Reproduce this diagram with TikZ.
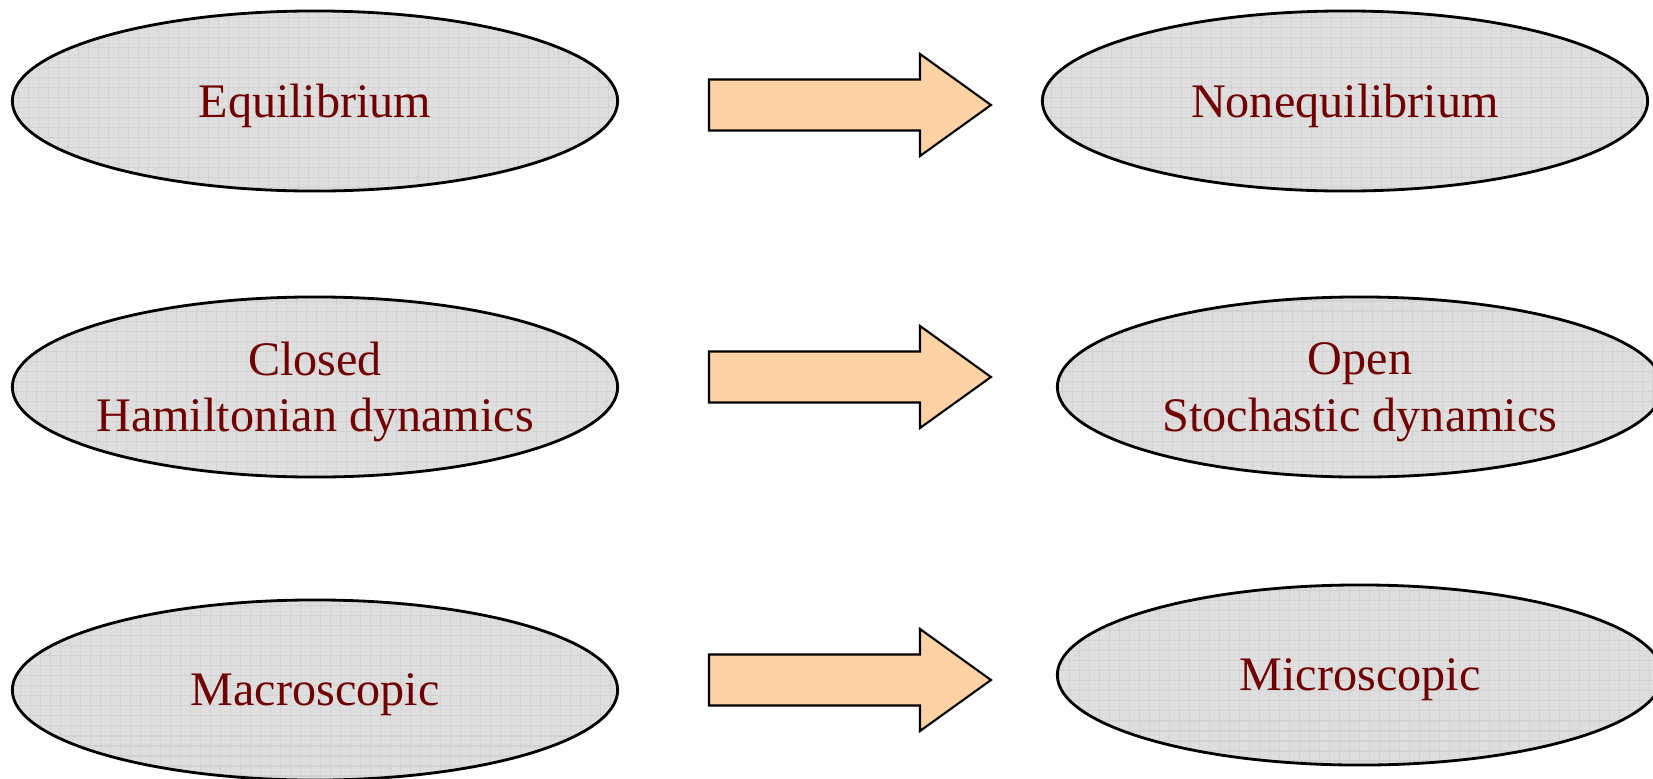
\documentclass[tikz,border=0pt]{standalone}
\usepackage{fontspec}
\setmainfont{Liberation Serif}
\usetikzlibrary{shapes.geometric}
\definecolor{labelred}{RGB}{112,0,0}
\definecolor{ovalgray}{RGB}{222,222,222}
\definecolor{arrowpeach}{RGB}{255,210,165}

\tikzset{
  oval/.style={ellipse, draw=black, line width=0.8pt, fill=ovalgray,
    minimum width=6.05cm, minimum height=1.8cm, inner xsep=-1cm, inner ysep=0pt,
    text depth=0pt, text=labelred, font=\fontsize{13.7}{16}\selectfont, align=center,
    path picture={\draw[gray!35, line width=0.3pt, step=1mm]
      (path picture bounding box.south west) grid (path picture bounding box.north east);}},
  fatarrow/.style={draw=black, line width=0.6pt, fill=arrowpeach}
}

\begin{document}
\begin{tikzpicture}[x=0.01cm, y=-0.01cm]
    \useasboundingbox (0,0) rectangle (1653,778);
    % linke Seite
    \node[oval] (equil) at (315,101) {Equilibrium};
    \node[oval] (closed) at (315,387) {Closed\\Hamiltonian dynamics};
    \node[oval] (macro) at (315,690) {Macroscopic};
    % rechte Seite
    \node[oval] (nonequil) at (1345,101) {Nonequilibrium};
    \node[oval] (open) at (1360,387) {Open\\Stochastic dynamics};
    \node[oval] (micro) at (1360,675) {Microscopic};
    % Blockpfeile
    \foreach \cy in {105,377,680}
      \draw[fatarrow] (709,\cy-25.5) -- (920,\cy-25.5) -- (920,\cy-51)
        -- (991,\cy) -- (920,\cy+51) -- (920,\cy+25.5) -- (709,\cy+25.5) -- cycle;
  \end{tikzpicture}
\end{document}
